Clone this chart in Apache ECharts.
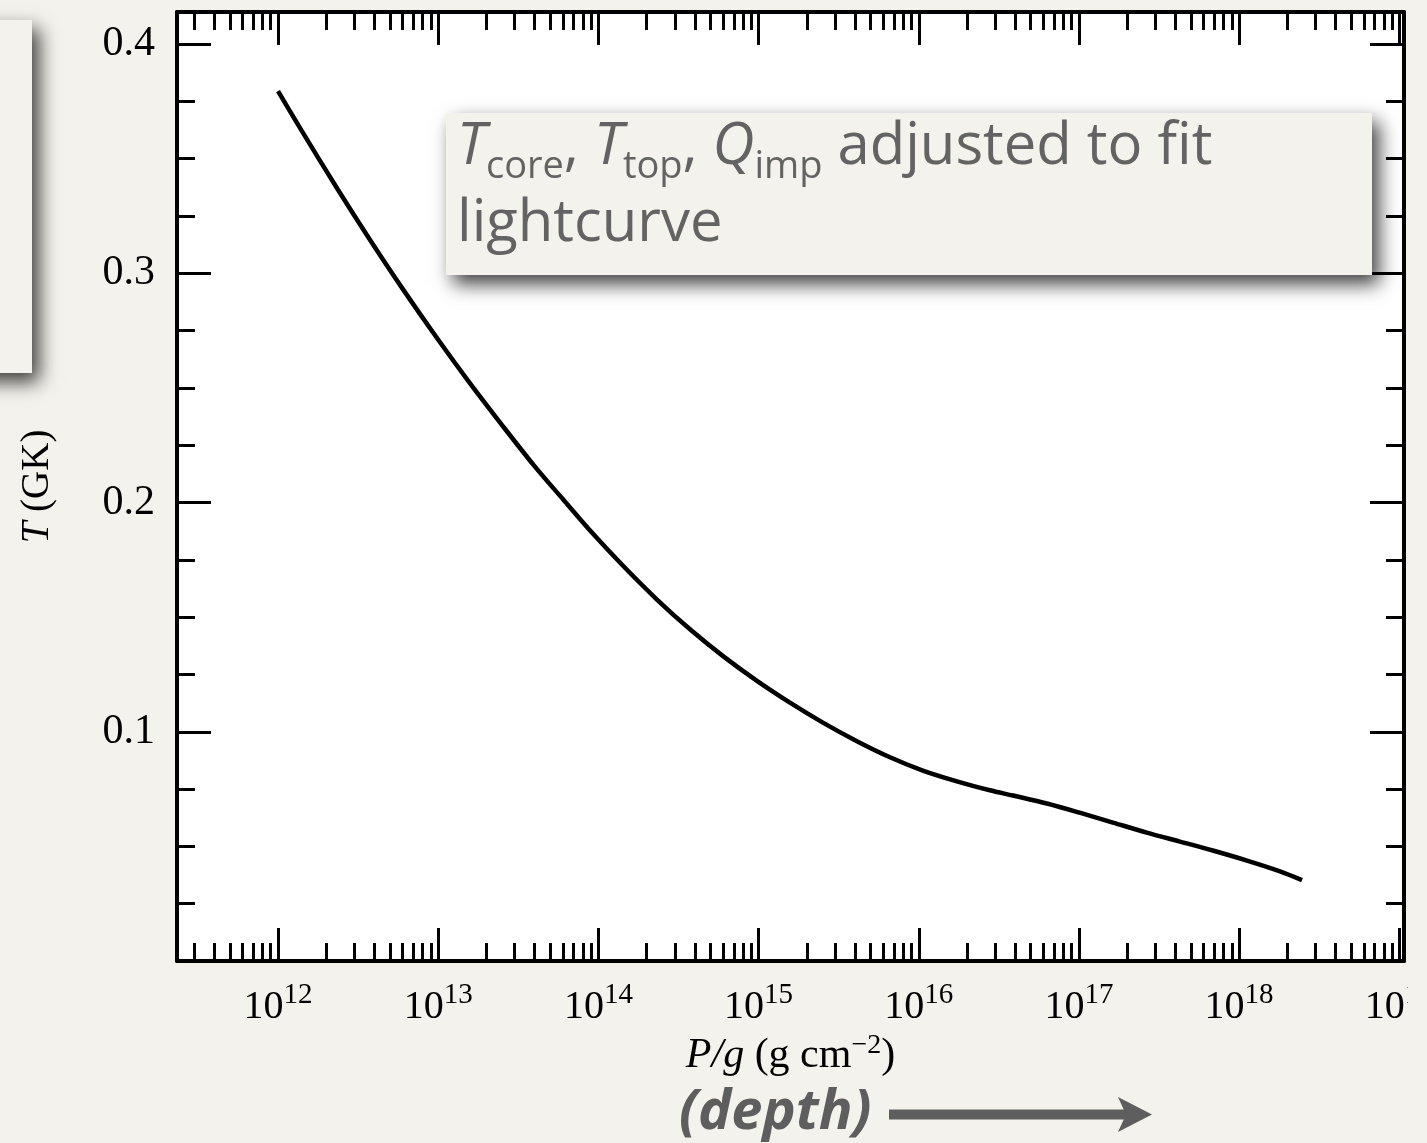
<!DOCTYPE html>
<html>
<head>
<meta charset="utf-8">
<script src="https://cdn.jsdelivr.net/npm/echarts@6/dist/echarts.min.js"></script>
<style>
  html, body { margin: 0; padding: 0; background: #f3f2ec; }
  #chart { width: 1427px; height: 1143px; }
</style>
</head>
<body>
<div id="chart"></div>
<script>
// Temperature profile of the crust versus column depth P/g
const columnDepth = [
  1.00e12, 1.41e12, 2.34e12, 3.72e12, 6.03e12, 9.77e12, 1.58e13, 2.51e13,
  3.98e13, 6.03e13, 8.87e13, 1.43e14, 2.32e14, 3.73e14, 6.00e14, 9.77e14,
  1.57e15, 2.52e15, 4.11e15, 6.61e15, 1.06e16, 1.73e16, 2.78e16, 3.87e16,
  6.31e16, 1.01e17, 1.63e17, 2.65e17, 4.27e17, 6.85e17, 1.12e18, 1.80e18, 2.47e18
];
const temperatureGK = [
  0.3795, 0.362, 0.337, 0.315, 0.293, 0.272, 0.252, 0.2337,
  0.216, 0.2013, 0.1878, 0.1723, 0.1577, 0.1447, 0.1330, 0.1222,
  0.1127, 0.1040, 0.0959, 0.0889, 0.0831, 0.0784, 0.0745, 0.0722,
  0.0687, 0.0647, 0.0604, 0.0560, 0.0521, 0.0482, 0.0438, 0.0391, 0.0353
];

// Axis ticks
const decadeTicks = [1e12, 1e13, 1e14, 1e15, 1e16, 1e17, 1e18, 1e19];
const decadeMantissas = [2, 3, 4, 5, 6, 7, 8, 9];
const tempMajorTicks = [0.1, 0.2, 0.3, 0.4];
const tempMinorTicks = [0.025, 0.05, 0.075, 0.125, 0.15, 0.175, 0.225, 0.25, 0.275, 0.325, 0.35, 0.375];

const X_MIN = 2.34e11, X_MAX = 1.07e19;
const Y_MIN = 0, Y_MAX = 0.414;

const depthMinorTicks = [];
[1e11].concat(decadeTicks.slice(0, -1)).forEach(function (d) {
  decadeMantissas.forEach(function (m) {
    const v = m * d;
    if (v > X_MIN && v < X_MAX) depthMinorTicks.push(v);
  });
});

const INK = '#000';
const BG = '#f3f2ec';
const GREY = '#636363';
const SERIF = '"Liberation Serif", "Times New Roman", serif';
const SANS = '"Open Sans", "Noto Sans", sans-serif';

const seriesData = columnDepth.map(function (p, i) { return [p, temperatureGK[i]]; });

function xAxisDef(pos, ticks, tickLen, withLine, withLabels) {
  const ax = {
    type: 'log', logBase: 10, position: pos, gridIndex: 0,
    min: X_MIN, max: X_MAX,
    splitLine: { show: false },
    axisLine: { show: withLine, onZero: false, lineStyle: { color: INK, width: 4 } },
    axisTick: { show: true, inside: true, length: tickLen, customValues: ticks,
                lineStyle: { color: INK, width: 3 } },
    axisLabel: { show: false }
  };
  if (withLabels) {
    ax.axisLabel = {
      show: true, customValues: ticks, margin: 20,
      formatter: function (v) {
        return '{b|10}{s|' + Math.round(Math.log10(v)) + '}';
      },
      rich: {
        b: { fontFamily: SERIF, fontSize: 40, lineHeight: 52, color: INK },
        s: { fontFamily: SERIF, fontSize: 29, lineHeight: 29, verticalAlign: 'top', color: INK }
      }
    };
    ax.name = '{i|P/g}{n| (g cm}{s|\u22122}{n|)}';
    ax.nameLocation = 'middle';
    ax.nameGap = 66;
    ax.nameTextStyle = {
      rich: {
        i: { fontFamily: SERIF, fontStyle: 'italic', fontSize: 42, lineHeight: 48, color: INK },
        n: { fontFamily: SERIF, fontSize: 42, lineHeight: 48, color: INK },
        s: { fontFamily: SERIF, fontSize: 28, lineHeight: 28, verticalAlign: 'top', color: INK }
      }
    };
  }
  return ax;
}

function yAxisDef(pos, ticks, tickLen, withLine, withLabels) {
  const ax = {
    type: 'value', position: pos, gridIndex: 0,
    min: Y_MIN, max: Y_MAX,
    splitLine: { show: false },
    axisLine: { show: withLine, onZero: false, lineStyle: { color: INK, width: 4 } },
    axisTick: { show: true, inside: true, length: tickLen, customValues: ticks,
                lineStyle: { color: INK, width: 3 } },
    axisLabel: { show: false }
  };
  if (withLabels) {
    ax.axisLabel = {
      show: true, customValues: ticks, margin: 22,
      formatter: function (v) { return v.toFixed(1); },
      fontFamily: SERIF, fontSize: 42, color: INK
    };
    ax.name = '{i|T}{n| (GK)}';
    ax.nameLocation = 'middle';
    ax.nameRotate = 90;
    ax.nameGap = 119;
    ax.nameTextStyle = {
      rich: {
        i: { fontFamily: SERIF, fontStyle: 'italic', fontSize: 39, lineHeight: 40, color: INK },
        n: { fontFamily: SERIF, fontSize: 39, lineHeight: 40, color: INK }
      }
    };
  }
  return ax;
}

const chart = echarts.init(document.getElementById('chart'), null, { renderer: 'canvas' });

chart.setOption({
  backgroundColor: BG,
  animation: false,
  grid: {
    left: 177, top: 12, right: 23, bottom: 182,
    outerBoundsMode: 'none', containLabel: false,
    show: true, backgroundColor: '#ffffff', borderWidth: 0
  },
  xAxis: [
    xAxisDef('bottom', decadeTicks, 33, true, true),
    xAxisDef('bottom', depthMinorTicks, 18, false, false),
    xAxisDef('top', decadeTicks, 33, true, false),
    xAxisDef('top', depthMinorTicks, 18, false, false)
  ],
  yAxis: [
    yAxisDef('left', tempMajorTicks, 34, true, true),
    yAxisDef('left', tempMinorTicks, 18, false, false),
    yAxisDef('right', tempMajorTicks, 34, true, false),
    yAxisDef('right', tempMinorTicks, 18, false, false)
  ],
  series: [{
    type: 'line',
    xAxisIndex: 0, yAxisIndex: 0,
    data: seriesData,
    showSymbol: false,
    smooth: 0.3,
    lineStyle: { color: INK, width: 4.5 },
    z: 5
  }],
  graphic: [
    // partially visible panel at the left edge
    {
      type: 'rect', left: -30, top: 20, z: 10,
      shape: { width: 62, height: 353 },
      style: { fill: BG, shadowBlur: 18, shadowColor: 'rgba(0,0,0,0.75)', shadowOffsetX: 7, shadowOffsetY: 9 }
    },
    // callout box
    {
      type: 'rect', z: 10,
      shape: { x: 446, y: 113, width: 926, height: 162 },
      style: { fill: BG, shadowBlur: 18, shadowColor: 'rgba(0,0,0,0.75)', shadowOffsetX: 7, shadowOffsetY: 9 }
    },
    {
      type: 'text', z: 11,
      x: 457, y: 109,
      style: {
        text: '{i|T}{s|core}{n|, }{i|T}{s|top}{n|, }{i|Q}{s|imp}{n| adjusted to fit}\n{n|lightcurve}',
        verticalAlign: 'top', align: 'left',
        rich: {
          i: { fontFamily: SANS, fontStyle: 'italic', fontSize: 58, lineHeight: 77, fill: GREY },
          n: { fontFamily: SANS, fontSize: 58, lineHeight: 77, fill: GREY },
          s: { fontFamily: SANS, fontSize: 38, lineHeight: 49, verticalAlign: 'bottom', fill: GREY }
        }
      }
    },
    // hide the clipped end of the last tick label
    {
      type: 'rect', z: 20,
      shape: { x: 1408, y: 966, width: 30, height: 80 },
      style: { fill: BG }
    },
    // depth caption with arrow
    {
      type: 'text', z: 11,
      x: 679, y: 1113,
      style: {
        text: '(depth)', fill: '#5e5e5e',
        font: 'italic bold 56px ' + SANS,
        verticalAlign: 'middle', align: 'left'
      }
    },
    {
      type: 'line', z: 11,
      shape: { x1: 889, y1: 1114.5, x2: 1128, y2: 1114.5 },
      style: { stroke: '#5e5e5e', lineWidth: 10 }
    },
    {
      type: 'polygon', z: 11,
      shape: { points: [[1118, 1097], [1152, 1114.5], [1118, 1132], [1126, 1114.5]] },
      style: { fill: '#5e5e5e' }
    }
  ]
});
</script>
</body>
</html>
